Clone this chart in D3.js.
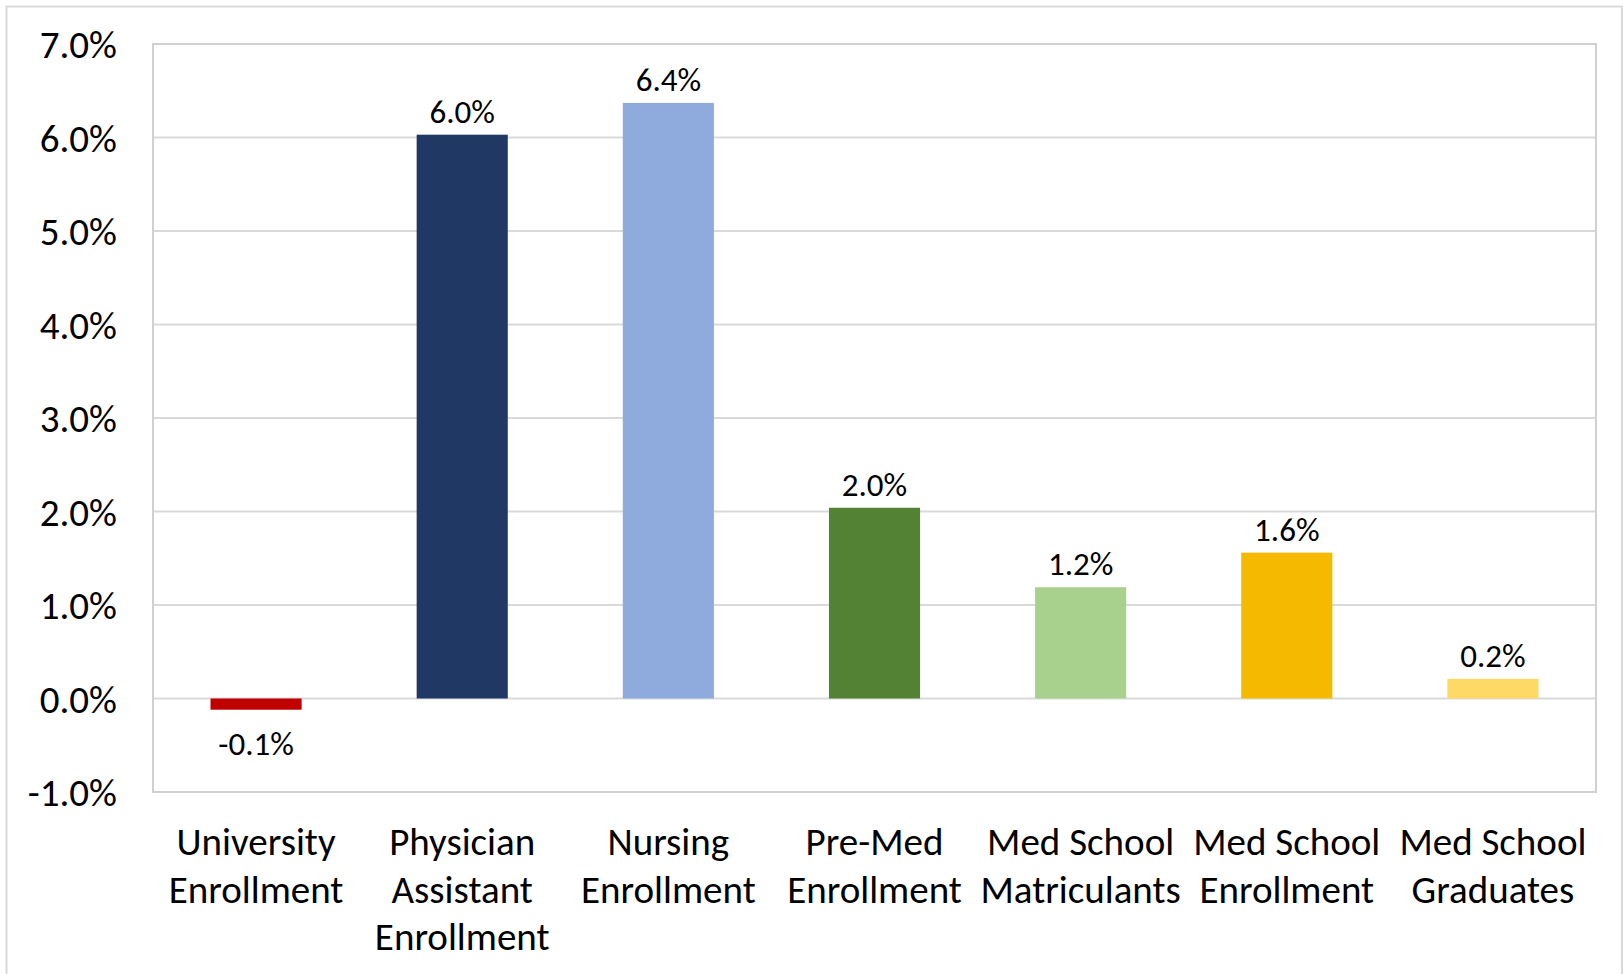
<!DOCTYPE html>
<html>
<head>
<meta charset="utf-8">
<script src="https://cdn.jsdelivr.net/npm/d3@7"></script>
<style>
  html, body { margin: 0; padding: 0; background: #fff; }
  svg { display: block; }
  text { font-family: Carlito, Lato, "Open Sans", sans-serif; fill: #000; }
</style>
</head>
<body>
<svg id="chart" width="1623" height="974"></svg>
<script>
const categories = [
  "University\nEnrollment",
  "Physician\nAssistant\nEnrollment",
  "Nursing\nEnrollment",
  "Pre-Med\nEnrollment",
  "Med School\nMatriculants",
  "Med School\nEnrollment",
  "Med School\nGraduates"
];
const values = [-0.12, 6.03, 6.37, 2.04, 1.19, 1.56, 0.21];
const valueLabels = ["-0.1%", "6.0%", "6.4%", "2.0%", "1.2%", "1.6%", "0.2%"];
const barColors = ["#C00000", "#203864", "#8FAADC", "#548235", "#A9D18E", "#F5B900", "#FFD966"];
const tickValues = [-1, 0, 1, 2, 3, 4, 5, 6, 7];
const tickLabels = ["-1.0%", "0.0%", "1.0%", "2.0%", "3.0%", "4.0%", "5.0%", "6.0%", "7.0%"];

(function () {
const svg = d3.select("#chart");
const plotLeft = 153, plotRight = 1596, plotTop = 44, plotBottom = 792;

// outer chart border
svg.append("rect")
  .attr("x", 6.5).attr("y", 6.5).attr("width", 1615.5).attr("height", 1000)
  .attr("fill", "none").attr("stroke", "#D9D9D9").attr("stroke-width", 2);

const x = d3.scaleBand().domain(d3.range(categories.length)).range([plotLeft, plotRight])
  .paddingInner(0.558).paddingOuter(0.279);
const y = d3.scaleLinear().domain([-1, 7]).range([plotBottom, plotTop]);

// gridlines
svg.append("g").selectAll("line").data(tickValues).join("line")
  .attr("x1", plotLeft).attr("x2", plotRight)
  .attr("y1", d => y(d)).attr("y2", d => y(d))
  .attr("stroke", "#D9D9D9").attr("stroke-width", 2);

// plot border
svg.append("rect")
  .attr("x", plotLeft).attr("y", y(7)).attr("width", plotRight - plotLeft).attr("height", y(-1) - y(7))
  .attr("fill", "none").attr("stroke", "#D0D0D0").attr("stroke-width", 2);

// y axis labels
const yAxis = d3.axisLeft(y).tickValues(tickValues)
  .tickFormat((d, i) => tickLabels[i]).tickSize(0).tickPadding(0);
const gy = svg.append("g").attr("transform", `translate(${plotLeft - 36},0)`).call(yAxis);
gy.select(".domain").remove();
gy.selectAll("text").attr("font-size", 39).attr("fill", "#000")
  .style("font-family", "Carlito, Lato, 'Open Sans', sans-serif").attr("dy", "0.35em");

// bars
svg.append("g").selectAll("rect").data(values).join("rect")
  .attr("x", (d, i) => x(i))
  .attr("width", x.bandwidth())
  .attr("y", d => y(Math.max(0, d)))
  .attr("height", d => Math.abs(y(d) - y(0)))
  .attr("fill", (d, i) => barColors[i]);

// value labels
svg.append("g").selectAll("text").data(values).join("text")
  .attr("x", (d, i) => x(i) + x.bandwidth() / 2)
  .attr("y", d => d >= 0 ? y(d) - 12 : y(d) + 45)
  .attr("text-anchor", "middle")
  .attr("font-size", 33)
  .text((d, i) => valueLabels[i]);

// category labels
const cat = svg.append("g").selectAll("text").data(categories).join("text")
  .attr("text-anchor", "middle")
  .attr("font-size", 39)
  .attr("x", (d, i) => x(i) + x.bandwidth() / 2)
  .attr("y", 855);
cat.each(function (d) {
  const t = d3.select(this);
  d.split("\n").forEach((line, j) => {
    t.append("tspan")
      .attr("x", t.attr("x"))
      .attr("dy", j === 0 ? 0 : 47.6)
      .text(line);
  });
});
})();
</script>
</body>
</html>
